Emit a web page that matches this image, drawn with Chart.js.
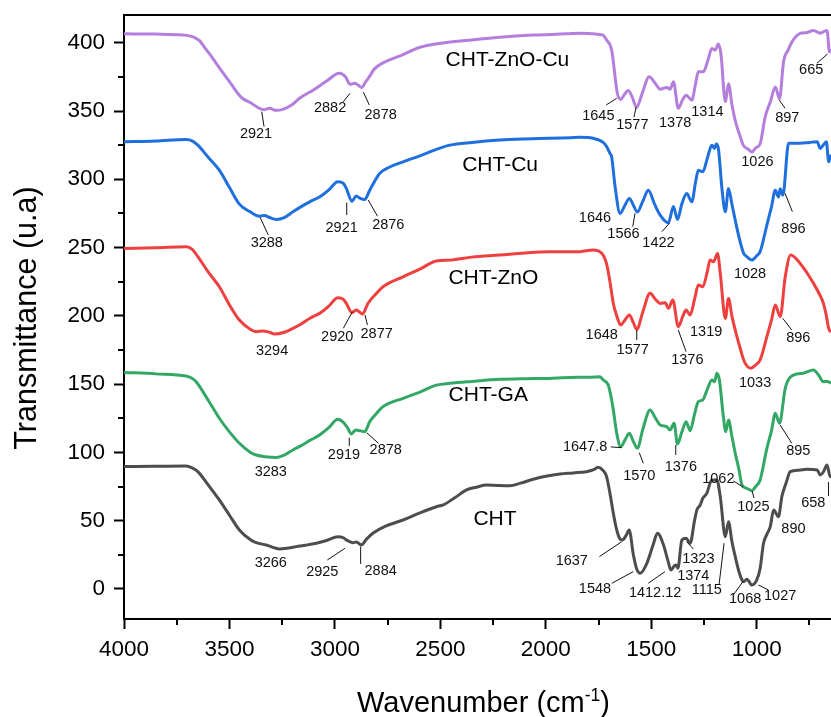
<!DOCTYPE html>
<html>
<head>
<meta charset="utf-8">
<title>FTIR spectra</title>
<script src="https://cdn.jsdelivr.net/npm/chart.js@4.4.1/dist/chart.umd.min.js"></script>
<style>
  html, body { margin: 0; padding: 0; background: #fff; }
  #wrap { width: 831px; height: 717px; }
</style>
</head>
<body>
<div id="wrap"><canvas id="ftirChart" width="831" height="717"></canvas></div>
<script>
// wavenumber (cm-1) / transmittance (u.a), one pair of arrays per sample
const waveZnOCu = [4000,3850,3720,3690,3665,3642,3620,3598,3540,3500,3444,3400,3358,3335,3310,3280,3250,3200,3168,3102,3039,2979,2950,2928,2908,2890,2873,2856,2842,2810,2754,2691,2600,2479,2350,2218,2061,1900,1838,1776,1729,1712,1688,1661,1645,1628,1609,1590,1570,1545,1510,1480,1458,1427,1411,1395,1372,1352,1335,1308,1290,1277,1253,1230,1213,1197,1182,1170,1149,1134,1118,1102,1080,1064,1040,1023,1005,984,960,935,912,892,873,850,833,794,760,731,700,684,667,655,648];
const transZnOCu = [406.5,406.3,405.6,405,403.8,401.5,397,392.5,380,371.5,360,356,352,351,352,350.5,351,355,359.3,365.4,372,377.6,375,369.5,370.3,369,367.2,371,373.9,381.2,386.6,390.3,396.5,400,402,404,405.6,406.5,407,406.5,405.5,402,394.6,363,358.5,362,365,360,352.6,362,375,370,366,367.3,366,371.4,352,358,361.6,358,370,378.7,378.7,388,395.8,394.6,399,392,357,370,355,343,332,325,322,320,323,326,345.8,357,367.6,359,386,395,400.6,406.8,407.5,409,407,408,409,393.3,395];

const waveCu = [4000,3850,3706,3675,3650,3600,3548,3500,3453,3400,3358,3334,3310,3278,3240,3199,3160,3120,3073,3030,2986,2960,2946,2919,2899,2880,2859,2835,2788,2740,2677,2600,2519,2455,2350,2218,2100,1981,1880,1838,1776,1728,1712,1696,1688,1672,1648,1625,1604,1585,1566,1540,1514,1485,1458,1419,1395,1376,1355,1332,1308,1290,1277,1256,1235,1213,1200,1192,1182,1165,1149,1134,1118,1102,1080,1062,1047,1023,1000,984,952,930,912,897,889,876,849,794,750,714,699,685,670,659,648];
const transCu = [327.5,328,329.2,328,325,316,306.7,294,281.8,276,273,273.5,272,270.6,272,276.2,280,283.5,287,292,298.2,297,293.3,284,287.7,286,285.2,292,304.3,309,312.8,317,321.9,325,327,328.7,329.5,330,330.5,330.7,330,327,324,319,316.5,295,275,281,286,281,276,284,292,282,273.8,268.2,280,270.6,282,289.5,283.5,298,306.7,305.5,315,325,322.6,325.8,322.6,293,276.2,293.3,282,270,255,245.7,243.3,240.8,244,247,266.5,280,292,287,293,288.4,326.4,326.4,327,327.5,322.6,325,327.5,312.8,318];

const waveZnO = [4000,3850,3706,3675,3650,3600,3548,3500,3453,3400,3373,3342,3310,3286,3240,3199,3160,3120,3073,3030,2986,2960,2946,2919,2899,2885,2870,2843,2800,2772,2677,2600,2519,2455,2350,2218,2100,1981,1838,1776,1735,1712,1696,1680,1664,1645,1625,1604,1585,1569,1540,1506,1480,1458,1434,1419,1398,1372,1350,1335,1316,1295,1277,1256,1235,1221,1205,1186,1173,1149,1134,1118,1102,1080,1062,1045,1028,1005,984,952,930,912,889,865,839,794,760,731,700,684,670,659,648];
const transZnO = [249.4,249.8,250.6,248.5,243.3,232,221.3,208,196.9,190,188.4,188.9,188,186.7,188,190.8,194,198.1,201.8,207,213.3,212,209.1,202.5,204.2,203,201.3,209.2,217,221.3,228.6,234,240.1,240.8,243,244.5,246,246.9,247,248.2,245.8,238,225,209,200,193.3,197,200.6,195,190.1,203,216.5,212,209.1,209.6,205.5,211.6,192,200,204.2,200.6,212,222.5,221.3,232,240.8,239.6,245.7,231.1,198.1,212.7,200,189.6,177,167.7,163,161.6,164,167.7,184.8,197,207.9,199.4,228.6,244.5,238.4,231,223.8,215,209.1,200,190.8,188];

const waveGA = [4000,3850,3706,3680,3658,3600,3548,3500,3453,3400,3373,3330,3278,3240,3199,3160,3120,3073,3030,2986,2960,2940,2922,2902,2880,2859,2835,2800,2772,2677,2600,2519,2455,2350,2218,2100,1981,1850,1791,1743,1728,1704,1688,1680,1664,1645,1625,1604,1585,1566,1540,1506,1480,1458,1427,1411,1392,1376,1355,1335,1316,1295,1277,1256,1235,1213,1200,1189,1177,1160,1147,1134,1118,1102,1085,1070,1047,1023,1005,984,952,930,912,892,865,825,780,731,707,684,665,648];
const transGA = [158.6,157.5,155.9,154.5,151.8,138,125,115,106.7,100,98.1,96.8,96.2,98,101.8,105,108.6,112.7,118,124.2,122,118,113.5,116.4,115.8,115.2,122.5,129,133.5,139.6,144,149.3,150.6,152,153.5,154,154.2,155,155,155.4,153,149.3,138.4,131,114,104.2,109,114,108,103,117,131,125,120,118.8,116.4,121.3,106.2,115,122.5,115.9,128,137.2,138.4,146,153,151.8,157.9,153,128.6,115.2,123.7,112,99.3,88,76.1,73.7,72,75,79.8,103,116,128.6,121.3,146.9,156.7,158,160.3,156.7,151.8,152,150.6];

const waveCHT = [4000,3850,3706,3675,3650,3600,3548,3500,3453,3400,3373,3326,3263,3220,3183,3140,3088,3040,2986,2960,2946,2915,2899,2875,2850,2820,2760,2677,2600,2519,2487,2430,2376,2330,2281,2230,2171,2120,2060,2000,1933,1870,1807,1770,1754,1730,1712,1696,1680,1664,1650,1637,1620,1605,1585,1570,1553,1521,1490,1471,1442,1420,1407,1390,1382,1374,1355,1335,1316,1295,1284,1268,1256,1237,1213,1189,1173,1149,1134,1118,1102,1085,1070,1062,1047,1023,1000,984,968,952,936,920,897,881,860,841,800,762,714,699,683,667,652,648];
const transCHT = [89.6,89.8,90,88.5,85.9,76,65.2,54,43.2,36,33.9,32.2,29.3,30,31,32,33.5,35.5,38.3,37.5,35.9,33.9,34.4,32.2,36.5,40.8,46,50.5,55.5,60.2,61.5,67,72.5,74.5,76.1,75.8,75.6,77.5,80.3,82.5,84.2,85,85.9,87.5,89.1,87,82.3,70,55.4,43.2,37,35.9,39,43.2,25,15,11.5,18.8,33,40.8,32.2,20,13.9,17,17.6,15.2,35.9,37.1,33.5,50,57.8,61.5,66.4,70,79.8,79.8,67.6,38.3,49.3,35,23.7,13,6.6,5.3,7.1,2.9,6.6,15,33.5,40,45.6,57.8,52.9,67.6,78,85.9,87,87.6,87.1,83.5,86,90.8,82.2,84];

const xTicks = [4000, 3500, 3000, 2500, 2000, 1500, 1000];
const xMinor = [3750, 3250, 2750, 2250, 1750, 1250, 750];
const yTicks = [0, 50, 100, 150, 200, 250, 300, 350, 400];
const yMinor = [25, 75, 125, 175, 225, 275, 325, 375];

// sample names, placed in data units
const seriesNames = [
  ['CHT-ZnO-Cu', 2182, 387.3],
  ['CHT-Cu', 2217, 310.5],
  ['CHT-ZnO', 2249, 227.5],
  ['CHT-GA', 2273, 142],
  ['CHT', 2241, 51]
];

// peak labels: text, wavenumber, transmittance, optional leader [w1, t1, w2, t2]
const peakLabels = [
  ['2921', 3374, 333.2, [3347, 349.5, 3336, 338.5]],
  ['2882', 3023, 352.4, [2960, 356.8, 2928, 363]],
  ['2878', 2783, 347.1, [2865, 363.7, 2837, 354.4]],
  ['1645', 1751, 346.3, [1714, 354.4, 1664, 359.3]],
  ['1577', 1590, 339.7, [1572, 352.9, 1582, 345.5]],
  ['1378', 1387, 341],
  ['1314', 1234, 349.5],
  ['1026', 997, 312.9],
  ['897', 855, 344.6, [893, 358, 866, 352]],
  ['665', 742, 380, [715, 384.9, 665, 391.7]],

  ['3288', 3323, 253.1, [3355, 272.2, 3316, 259.2]],
  ['2921', 2968, 264.1, [2944, 282.9, 2944, 273.8]],
  ['2876', 2747, 266.5, [2842, 284.8, 2799, 273.1]],
  ['1646', 1767, 271.4],
  ['1566', 1632, 259.9, [1577, 275.1, 1588, 265.3]],
  ['1422', 1466, 253.1, [1414, 267.8, 1450, 261.6]],
  ['1028', 1032, 230.6],
  ['896', 826, 263.4, [866, 289.7, 831, 276.3]],

  ['3294', 3298, 174.3],
  ['2920', 2989, 184.7, [2917, 203, 2960, 190.9]],
  ['2877', 2802, 186.7, [2857, 200.6, 2846, 193.3]],
  ['1648', 1735, 186],
  ['1577', 1588, 175, [1569, 189.6, 1569, 182.3]],
  ['1376', 1329, 167.7, [1372, 189.6, 1335, 173.8]],
  ['1319', 1240, 188.4],
  ['1033', 1008, 150.6],
  ['896', 803, 184, [877, 198.2, 834, 189.6]],

  ['3283', 3304, 85.9],
  ['2919', 2957, 98.1, [2932, 110.8, 2932, 104.7]],
  ['2878', 2759, 101.8, [2849, 114.4, 2794, 106.7]],
  ['1647.8', 1814, 103.8, [1692, 104, 1640, 103.5]],
  ['1570', 1557, 82.7, [1557, 99.8, 1538, 92]],
  ['1376', 1360, 89.5, [1384, 105.4, 1384, 98.1]],
  ['1025', 1016, 59.8, [1022, 71.8, 1013, 66.6]],
  ['895', 803, 101, [889, 120.1, 834, 106.7]],
  ['1062', 1182, 80.3, [1111, 79.1, 1064, 74.5]],

  ['3266', 3304, 19.3],
  ['2925', 3060, 12.7, [3036, 21.2, 2952, 29.8]],
  ['2884', 2783, 13.2, [2878, 31, 2878, 18.3]],
  ['1637', 1877, 20.7, [1746, 23.7, 1640, 34.6]],
  ['1548', 1767, -0.2, [1687, 4.2, 1585, 12.7]],
  ['1412.12', 1482, -2.7, [1514, 4.2, 1435, 12.7]],
  ['1374', 1301, 9.5],
  ['1323', 1277, 21.7, [1332, 34.6, 1301, 29.3]],
  ['1115', 1237, -0.7, [1179, 2.9, 1155, 33.5]],
  ['1068', 1055, -7.3, [1111, -4.4, 1066, 5.3]],
  ['1027', 889, -5.1, [992, 2.9, 945, -0.7]],
  ['890', 826, 43.7],
  ['658', 732, 63.2, [660, 78.3, 660, 68.1]]
];

const FONT = "'Liberation Sans', Arial, Helvetica, sans-serif";

function toPoints(waves, values) {
  return waves.map((w, i) => ({ x: w, y: values[i] }));
}

function spectrum(label, waves, values, color) {
  return {
    label: label,
    data: toPoints(waves, values),
    borderColor: color,
    backgroundColor: color,
    borderWidth: 3,
    pointRadius: 0,
    fill: false,
    cubicInterpolationMode: 'monotone'
  };
}

const decorations = {
  id: 'decorations',
  afterDraw(chart) {
    const ctx = chart.ctx;
    const a = chart.chartArea;
    const xs = chart.scales.x;
    const ys = chart.scales.y;
    ctx.save();

    // top frame line
    ctx.strokeStyle = '#000';
    ctx.lineWidth = 2;
    ctx.beginPath();
    ctx.moveTo(a.left - 1, a.top);
    ctx.lineTo(a.right, a.top);
    ctx.stroke();

    // minor ticks
    xMinor.forEach((v) => {
      const px = Math.round(xs.getPixelForValue(v));
      ctx.beginPath();
      ctx.moveTo(px, a.bottom);
      ctx.lineTo(px, a.bottom + 6);
      ctx.stroke();
    });
    yMinor.forEach((v) => {
      const py = Math.round(ys.getPixelForValue(v));
      ctx.beginPath();
      ctx.moveTo(a.left, py);
      ctx.lineTo(a.left - 6, py);
      ctx.stroke();
    });

    // leaders and peak labels
    ctx.lineWidth = 1;
    ctx.strokeStyle = '#111';
    ctx.fillStyle = '#111';
    ctx.font = '14.5px ' + FONT;
    ctx.textAlign = 'center';
    ctx.textBaseline = 'middle';
    peakLabels.forEach((p) => {
      if (p[3]) {
        const l = p[3];
        ctx.beginPath();
        ctx.moveTo(xs.getPixelForValue(l[0]), ys.getPixelForValue(l[1]));
        ctx.lineTo(xs.getPixelForValue(l[2]), ys.getPixelForValue(l[3]));
        ctx.stroke();
      }
      ctx.fillText(p[0], xs.getPixelForValue(p[1]), ys.getPixelForValue(p[2]));
    });

    // sample names
    ctx.fillStyle = '#000';
    ctx.font = '21px ' + FONT;
    seriesNames.forEach((s) => {
      ctx.fillText(s[0], xs.getPixelForValue(s[1]), ys.getPixelForValue(s[2]));
    });

    // x axis title with superscript
    ctx.textBaseline = 'alphabetic';
    ctx.textAlign = 'left';
    const big = '29px ' + FONT;
    const small = '17.5px ' + FONT;
    const part1 = 'Wavenumber (cm';
    const sup = '-1';
    const part3 = ')';
    ctx.font = big;
    const w1 = ctx.measureText(part1).width;
    const w3 = ctx.measureText(part3).width;
    ctx.font = small;
    const w2 = ctx.measureText(sup).width;
    let tx = (a.left + a.right) / 2 + 6 - (w1 + w2 + w3) / 2;
    const ty = 712;
    ctx.font = big;
    ctx.fillText(part1, tx, ty);
    tx += w1;
    ctx.font = small;
    ctx.fillText(sup, tx, ty - 11.5);
    tx += w2;
    ctx.font = big;
    ctx.fillText(part3, tx, ty);

    // y axis title
    ctx.save();
    ctx.translate(36, (a.top + a.bottom) / 2 + 1);
    ctx.rotate(-Math.PI / 2);
    ctx.textAlign = 'center';
    ctx.font = '30.5px ' + FONT;
    ctx.fillText('Transmittance (u.a)', 0, 0);
    ctx.restore();

    ctx.restore();
  }
};

const ctx = document.getElementById('ftirChart').getContext('2d');

const ftirChart = new Chart(ctx, {
  type: 'line',
  data: {
    datasets: [
      spectrum('CHT', waveCHT, transCHT, '#4d4d4d'),
      spectrum('CHT-GA', waveGA, transGA, '#33a866'),
      spectrum('CHT-ZnO', waveZnO, transZnO, '#ef4040'),
      spectrum('CHT-Cu', waveCu, transCu, '#1f6fdc'),
      spectrum('CHT-ZnO-Cu', waveZnOCu, transZnOCu, '#b47fdc')
    ]
  },
  options: {
    responsive: false,
    animation: false,
    devicePixelRatio: 1,
    layout: { padding: { top: 15, left: 0, right: 0, bottom: 0 } },
    plugins: {
      legend: { display: false },
      tooltip: { enabled: false }
    },
    scales: {
      x: {
        type: 'linear',
        reverse: true,
        min: 648,
        max: 4000,
        afterBuildTicks: (s) => { s.ticks = xTicks.map((v) => ({ value: v })); },
        afterFit: (s) => {
          s.height = 98;
          s.paddingLeft = 0;
          s.paddingRight = 0;
        },
        ticks: {
          color: '#000',
          font: { family: FONT, size: 22.5 },
          padding: 7,
          maxRotation: 0,
          autoSkip: false,
          callback: (v) => String(v)
        },
        grid: {
          drawOnChartArea: false,
          drawTicks: true,
          tickLength: 10,
          tickWidth: 2,
          tickColor: '#000'
        },
        border: { display: true, color: '#000', width: 2 }
      },
      y: {
        type: 'linear',
        min: -22,
        max: 420.3,
        afterBuildTicks: (s) => { s.ticks = yTicks.map((v) => ({ value: v })); },
        afterFit: (s) => {
          s.width = 124;
          s.paddingTop = 0;
          s.paddingBottom = 0;
        },
        ticks: {
          color: '#000',
          font: { family: FONT, size: 22.5 },
          padding: 9,
          callback: (v) => String(v)
        },
        grid: {
          drawOnChartArea: false,
          drawTicks: true,
          tickLength: 10,
          tickWidth: 2,
          tickColor: '#000'
        },
        border: { display: true, color: '#000', width: 2 }
      }
    }
  },
  plugins: [decorations]
});
</script>
</body>
</html>
